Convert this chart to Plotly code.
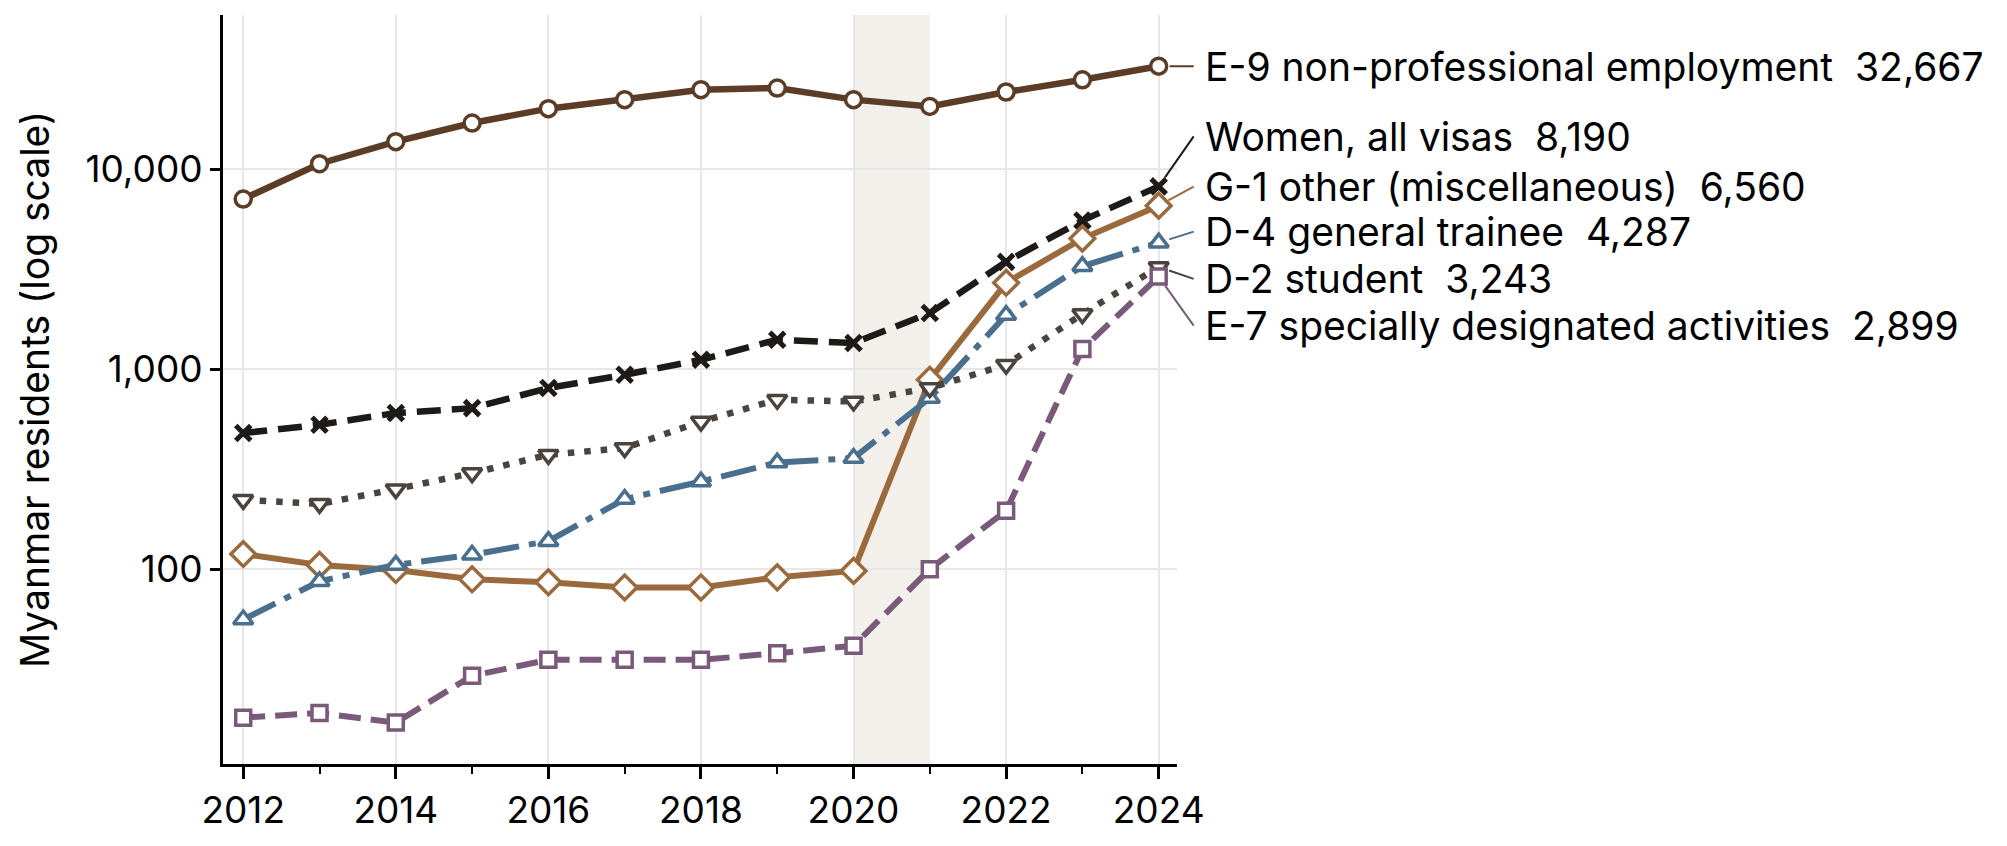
import math
import plotly.graph_objects as go

# Myanmar residents in Korea by visa type, 2012-2024
years = list(range(2012, 2025))
e9_nonprof = [7080, 10630, 13700, 16980, 20040, 22230, 24930, 25410, 22230, 20570, 24270, 27940, 32667]
women_all = [479, 527, 603, 638, 804, 937, 1113, 1403, 1350, 1905, 3435, 5530, 8190]
g1_other = [119, 105, 99, 89, 86, 81, 81, 91, 98, 885, 2700, 4490, 6560]
d4_trainee = [56, 87, 105, 118, 138, 224, 274, 341, 359, 716, 1862, 3270, 4287]
d2_student = [222, 212, 251, 302, 373, 403, 547, 703, 689, 804, 1052, 1884, 3243]
e7_special = [18.1, 19.1, 17.1, 29.3, 35.2, 35.2, 35.2, 38.0, 41.4, 100, 196, 1259, 2899]

names = [
    "E-9 non-professional employment",
    "Women, all visas",
    "G-1 other (miscellaneous)",
    "D-4 general trainee",
    "D-2 student",
    "E-7 specially designated activities",
]
values = [e9_nonprof, women_all, g1_other, d4_trainee, d2_student, e7_special]

y_ticks = [100, 1000, 10000]
x_ticks = list(range(2012, 2025, 2))

# styles: color, dash, marker symbol, marker size, line width
styles = [
    ("#5b3c27", "solid", "circle", 16, 6.5),
    ("#1e1a17", "24px,11px", "x-thin", 15, 6.5),
    ("#9b6a3c", "solid", "diamond", 19, 6),
    ("#4a6e8e", "36px,10px,7px,10px", "triangle-up", 17, 6),
    ("#4b433d", "6.5px,10px", "triangle-down", 17, 6.5),
    ("#7a5a7b", "22px,10px", "square", 15, 6),
]
# vertical pixel offsets for the end labels (to keep them apart)
label_dy = [0, -50, -19, -11, 12, 49]

fig = go.Figure()

for name, vals, (col, dash, sym, msize, lw) in zip(names, values, styles):
    marker = dict(symbol=sym, size=msize, color="white",
                  line=dict(color=col, width=3.5 if sym != "x-thin" else 5))
    fig.add_trace(go.Scatter(
        x=years, y=vals, mode="lines+markers", name=name,
        line=dict(color=col, width=lw, dash=dash),
        marker=marker, cliponaxis=False,
    ))

annotations = []
for name, vals, (col, *_), dy in zip(names, values, styles, label_dy):
    annotations.append(dict(
        x=years[-1], y=math.log10(vals[-1]), xref="x", yref="y",
        text=f"{name}\u00a0\u00a0{vals[-1]:,}",
        showarrow=True, arrowhead=0, arrowwidth=2, arrowcolor=col,
        ax=35, ay=dy, standoff=11, borderpad=10,
        xanchor="left", yanchor="middle",
        font=dict(size=39, color="black"),
    ))

fig.add_shape(type="rect", x0=2020, x1=2021, xref="x", yref="paper", y0=0, y1=1,
              fillcolor="#f3f0eb", line_width=0, layer="below")

# page has an 8px body margin, so the figure is shrunk by that
fig.update_layout(
    width=1999, height=838,
    margin=dict(l=215, r=830, t=7, b=82),
    paper_bgcolor="white", plot_bgcolor="white",
    font=dict(family="Inter", size=37, color="black"),
    showlegend=False,
    annotations=annotations,
)
fig.update_xaxes(
    range=[2011.735, 2024.24],
    tickvals=x_ticks, ticktext=[str(t) for t in x_ticks],
    showgrid=True, gridcolor="#e7e7e7", gridwidth=2,
    showline=True, linecolor="black", linewidth=3,
    ticks="outside", ticklen=12, tickwidth=2.5, tickcolor="black",
    minor=dict(tickvals=years, ticks="outside", ticklen=7, tickwidth=2, tickcolor="black", showgrid=False),
    zeroline=False,
)
fig.update_yaxes(
    type="log", range=[1.026, 4.77],
    tickvals=y_ticks, ticktext=[f"{t:,}" for t in y_ticks],
    showgrid=True, gridcolor="#e7e7e7", gridwidth=2,
    showline=True, linecolor="black", linewidth=3,
    ticks="outside", ticklen=10, tickwidth=2.5, tickcolor="black",
    title=dict(text="Myanmar residents (log scale)", font=dict(size=39), standoff=24),
    zeroline=False,
)

fig.write_html("out.html")
